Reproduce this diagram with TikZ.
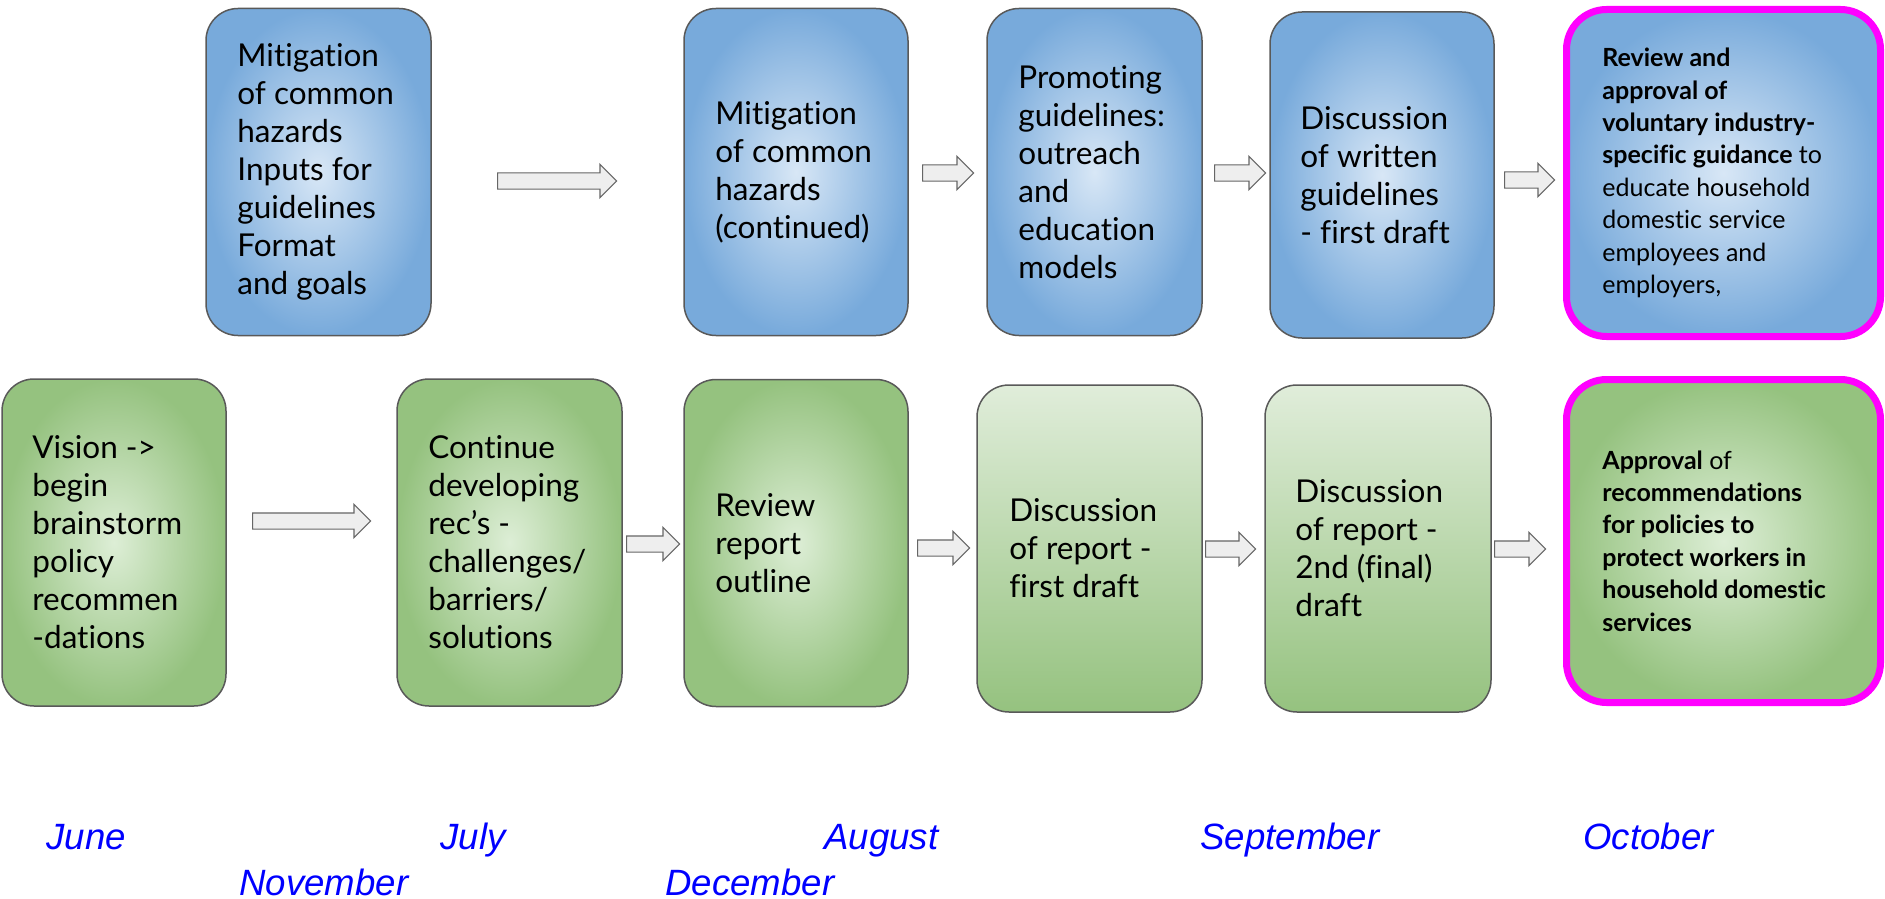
\documentclass[tikz,border=0pt]{standalone}
\usepackage{fontspec}
\setmainfont{Lato}[Ligatures=NoCommon]
\newfontfamily\monthfont{Liberation Sans}
\usetikzlibrary{shapes.arrows}
\definecolor{boxline}{HTML}{595959}
\definecolor{blueedge}{HTML}{78AADB}
\definecolor{bluecenter}{HTML}{D8E7F6}
\definecolor{greenedge}{HTML}{95C27F}
\definecolor{greencenter}{HTML}{DDEED6}
\definecolor{greenlight}{HTML}{E0EDDA}
\definecolor{arrowfill}{HTML}{EEEEEE}
\definecolor{arrowline}{HTML}{666666}
\definecolor{monthblue}{HTML}{0000FF}
\definecolor{hilite}{HTML}{FF00FF}
\begin{document}
\begin{tikzpicture}[x=0.5pt,y=-0.5pt,
 card/.style={draw=boxline, line width=0.75pt, rounded corners=16pt, inner sep=0pt, minimum height=163.5pt},
 bluecard/.style={card, inner color=bluecenter, outer color=blueedge},
 greencard/.style={card, inner color=greencenter, outer color=greenedge},
 palecard/.style={card, top color=greenlight, bottom color=greenedge},
 keycard/.style={draw=hilite, line width=3.5pt, rounded corners=20pt, inner sep=0pt, minimum width=157pt},
 cardtext/.style={inner sep=0pt, align=left, anchor=west, font=\fontsize{15.75}{19}\selectfont},
 smalltext/.style={cardtext, font=\fontsize{12.5}{16.2}\selectfont},
 month/.style={inner sep=0pt, anchor=base west, text=monthblue, font=\monthfont\itshape\fontsize{18.3}{22}\selectfont},
 barrow/.style={single arrow, draw=arrowline, fill=arrowfill, line width=0.6pt, inner sep=3.75pt, single arrow head extend=4.25pt, anchor=tail}
]
\useasboundingbox (0,0) rectangle (1885,899);

% top row
\node[bluecard, minimum width=112.5pt] (T1) at (318.5,172) {};
\node[bluecard, minimum width=112pt] (T2) at (796,172) {};
\node[bluecard, minimum width=107.5pt] (T3) at (1094.5,172) {};
\node[bluecard, minimum width=112pt, minimum height=163pt] (T4) at (1382,175) {};
\node[keycard, inner color=bluecenter, outer color=blueedge, minimum height=163.5pt] (T5) at (1723.5,173) {};

% bottom row
\node[greencard, minimum width=112pt] (B1) at (114,542.5) {};
\node[greencard, minimum width=112.5pt] (B2) at (509.5,542.5) {};
\node[greencard, minimum width=112pt] (B3) at (796,543) {};
\node[palecard, minimum width=112.5pt] (B4) at (1089.5,548.5) {};
\node[palecard, minimum width=113pt] (B5) at (1378,548.5) {};
\node[keycard, inner color=greencenter, outer color=greenedge, minimum height=161.5pt] (B6) at (1723.5,541) {};

% texts
\node[cardtext] (T1t) at (237,172) {Mitigation\\of common\\hazards\\Inputs for\\guidelines\\Format\\and goals};
\node[cardtext] (T2t) at (715,172) {Mitigation\\of common\\hazards\\(continued)};
\node[cardtext] (T3t) at (1018,172) {Promoting\\guidelines:\\outreach\\and\\education\\models};
\node[cardtext] (T4t) at (1300,175) {Discussion\\of written\\guidelines\\- first draft};
\node[smalltext] (T5t) at (1602,173) {\textbf{Review and}\\\textbf{approval of}\\\textbf{voluntary industry-}\\\textbf{specific guidance} to\\educate household\\domestic service\\employees and\\employers,};

\node[cardtext] (B1t) at (32,542.5) {Vision ->\\begin\\brainstorm\\policy\\recommen\\-dations};
\node[cardtext] (B2t) at (428,542.5) {Continue\\developing\\rec’s -\\challenges/\\barriers/\\solutions};
\node[cardtext] (B3t) at (715,543) {Review\\report\\outline};
\node[cardtext] (B4t) at (1009,548.5) {Discussion\\of report -\\first draft};
\node[cardtext] (B5t) at (1295,548.5) {Discussion\\of report -\\2nd (final)\\draft};
\node[smalltext] (B6t) at (1602,541) {\textbf{Approval} of\\\textbf{recommendations}\\\textbf{for policies to}\\\textbf{protect workers in}\\\textbf{household domestic}\\\textbf{services}};

% block arrows
\node[barrow, minimum height=59.5pt] (A1) at (497,181) {};
\node[barrow, minimum height=25.5pt] (A2) at (922,173) {};
\node[barrow, minimum height=25.5pt] (A3) at (1214,173) {};
\node[barrow, minimum height=25pt] (A4) at (1504,180) {};
\node[barrow, minimum height=59pt] (A5) at (252,521) {};
\node[barrow, minimum height=26.5pt] (A6) at (626,544) {};
\node[barrow, minimum height=26pt] (A7) at (917,548) {};
\node[barrow, minimum height=25pt] (A8) at (1205,549) {};
\node[barrow, minimum height=25.5pt] (A9) at (1494,549) {};

% months
\node[month] (m1) at (46,849) {June};
\node[month] (m2) at (440,849) {July};
\node[month] (m3) at (824,849) {August};
\node[month] (m4) at (1200,849) {September};
\node[month] (m5) at (1583,849) {October};
\node[month] (m6) at (239,895) {November};
\node[month] (m7) at (665,895) {December};
\end{tikzpicture}
\end{document}
